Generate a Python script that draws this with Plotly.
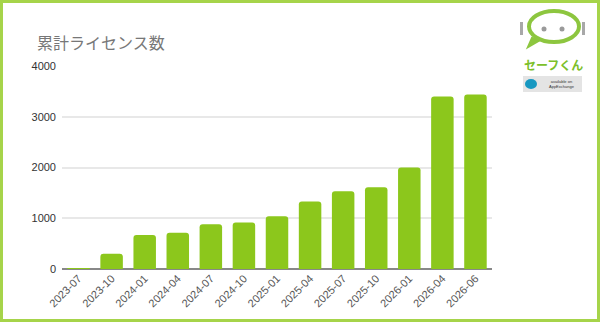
import plotly.graph_objects as go

categories = ["2023-07", "2023-10", "2024-01", "2024-04", "2024-07", "2024-10",
              "2025-01", "2025-04", "2025-07", "2025-10", "2026-01", "2026-04", "2026-06"]
licenses = [10, 300, 670, 715, 880, 915, 1040, 1330, 1530, 1610, 2000, 3400, 3440]
y_ticks = [0, 1000, 2000, 3000, 4000]
title_text = "累計ライセンス数"

W, H = 600, 322
ML, MR, MT, MB = 62, 108, 66, 53
PW, PH = W - ML - MR, H - MT - MB


def px(x):
    return (x - ML) / PW


def py(y):
    return (H - MB - y) / PH


GREEN = "#8cc71c"
fig = go.Figure(go.Bar(x=categories, y=licenses, marker=dict(color=GREEN, line=dict(width=0))))

shapes = []
# outer green border
shapes.append(dict(type="rect", xref="paper", yref="paper", x0=px(1.5), x1=px(W - 1.5),
                   y0=py(H - 1.5), y1=py(1.5), line=dict(color="#a6d44a", width=3), layer="above"))
# logo: speech bubble
shapes.append(dict(type="path", xref="paper", yref="paper",
                   path=f"M {px(532)},{py(38)} L {px(528)},{py(47)} L {px(540)},{py(40)} Z",
                   fillcolor="#8dc63f", line=dict(color="#8dc63f", width=2)))
shapes.append(dict(type="circle", xref="paper", yref="paper", x0=px(529), x1=px(579),
                   y0=py(42), y1=py(11), fillcolor="white", line=dict(color="#8dc63f", width=4)))
for cx in (544, 562):
    shapes.append(dict(type="circle", xref="paper", yref="paper", x0=px(cx - 2.5), x1=px(cx + 2.5),
                       y0=py(31.5), y1=py(26.5), fillcolor="#9a9a9a", line=dict(width=0)))
for bx in (520, 582):
    shapes.append(dict(type="rect", xref="paper", yref="paper", x0=px(bx), x1=px(bx + 3),
                       y0=py(35), y1=py(22), fillcolor="#a8a8a8", line=dict(width=0)))
# badge
shapes.append(dict(type="rect", xref="paper", yref="paper", x0=px(523), x1=px(582),
                   y0=py(92), y1=py(76), fillcolor="#e4e4e4", line=dict(width=0)))
shapes.append(dict(type="circle", xref="paper", yref="paper", x0=px(525), x1=px(537),
                   y0=py(89), y1=py(79), fillcolor="#1798c1", line=dict(width=0)))

annotations = [
    dict(text=title_text, xref="paper", yref="paper", x=px(35), y=py(42), xanchor="left",
         yanchor="middle", showarrow=False,
         font=dict(family="Noto Sans CJK JP", size=16, color="#777777")),
    dict(text="<b>セーフくん</b>", xref="paper", yref="paper", x=px(553), y=py(65), xanchor="center",
         yanchor="middle", showarrow=False,
         font=dict(family="Noto Sans CJK JP", size=12, color="#7cc02a")),
    dict(text="available on<br>AppExchange", xref="paper", yref="paper", x=px(562), y=py(84),
         xanchor="center", yanchor="middle", showarrow=False,
         font=dict(family="Liberation Sans", size=4, color="#333333")),
]

fig.update_layout(
    width=W, height=H,
    margin=dict(l=ML, r=MR, t=MT, b=MB, pad=0),
    paper_bgcolor="white", plot_bgcolor="white",
    bargap=0.32, barcornerradius=3,
    showlegend=False,
    shapes=shapes, annotations=annotations,
    font=dict(family="Liberation Sans", size=11, color="#333333"),
)
fig.update_xaxes(type="category", tickangle=-45, showgrid=False, showline=False, ticks="",
                 tickfont=dict(family="Liberation Sans", size=11, color="#555555"))
fig.update_yaxes(range=[0, 4000], tickvals=y_ticks, showgrid=True, gridcolor="#e8e8e8", gridwidth=1.5,
                 zeroline=True, zerolinecolor="#888888", zerolinewidth=2, showline=False, ticks="",
                 ticklabelstandoff=5,
                 tickfont=dict(family="Liberation Sans", size=11, color="#333333"))

fig.write_html("out.html")
